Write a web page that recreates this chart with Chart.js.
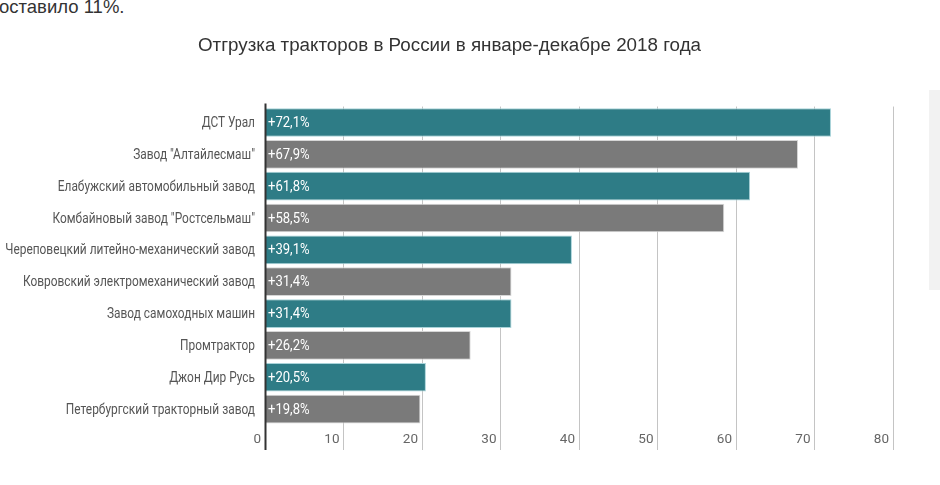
<!DOCTYPE html>
<html>
<head>
<meta charset="utf-8">
<script src="https://cdn.jsdelivr.net/npm/chart.js@4"></script>
<style>
  html, body { margin:0; padding:0; background:#fff; width:940px; height:485px; overflow:hidden; }
  #wrap { position:absolute; left:0; top:0; width:940px; height:485px; }
  #lead { position:absolute; left:-1px; top:-2px; font-family:'Liberation Sans', Arial, sans-serif; font-size:18.5px; line-height:18px; color:#333; white-space:nowrap; }
  #side { position:absolute; left:929px; top:90px; width:11px; height:200px; background:#f2f2f2; }
</style>
</head>
<body>
<div id="lead">оставило 11%.</div>
<div id="side"></div>
<div id="wrap"><canvas id="c" width="940" height="485"></canvas></div>
<script>
const TITLE = 'Отгрузка тракторов в России в январе-декабре 2018 года';
const categories = [
  'ДСТ Урал',
  'Завод "Алтайлесмаш"',
  'Елабужский автомобильный завод',
  'Комбайновый завод "Ростсельмаш"',
  'Череповецкий литейно-механический завод',
  'Ковровский электромеханический завод',
  'Завод самоходных машин',
  'Промтрактор',
  'Джон Дир Русь',
  'Петербургский тракторный завод'
];
const values = [72.1, 67.9, 61.8, 58.5, 39.1, 31.4, 31.4, 26.2, 20.5, 19.8];
const xTicks = [0, 10, 20, 30, 40, 50, 60, 70, 80];

const TEAL = '#2e7c86';
const GRAY = '#7a7a7a';
const barColors = categories.map((_, i) => i % 2 === 0 ? TEAL : GRAY);
const barBorders = categories.map((_, i) => i % 2 === 0 ? '#a9d3d9' : '#d6d6d6');
const COND = "Roboto, 'Noto Sans', sans-serif";

function condText(ctx, txt, x, y, align, squeeze) {
  ctx.save();
  ctx.translate(x, y);
  ctx.scale(squeeze, 1);
  ctx.textAlign = align;
  ctx.fillText(txt, 0, 0);
  ctx.restore();
}

const condensedLabels = {
  id: 'condensedLabels',
  afterDraw(chart) {
    const ctx = chart.ctx;
    const ys = chart.scales.y;
    ctx.save();
    ctx.fillStyle = '#555';
    ctx.font = '14px ' + COND;
    ctx.textBaseline = 'middle';
    ys.getLabels().forEach((lab, i) => {
      condText(ctx, lab, ys.right - 10, ys.getPixelForTick(i) + 1, 'right', 0.85);
    });
    ctx.restore();
  },
  afterDatasetsDraw(chart) {
    const ctx = chart.ctx;
    const meta = chart.getDatasetMeta(0);
    const xs = chart.scales.x;
    const x0 = xs.getPixelForValue(0);
    ctx.save();
    ctx.fillStyle = '#ffffff';
    ctx.font = '14.5px ' + COND;
    ctx.textBaseline = 'middle';
    meta.data.forEach((bar, i) => {
      const txt = '+' + values[i].toFixed(1).replace('.', ',') + '%';
      condText(ctx, txt, x0 + 3, bar.y + 1, 'left', 0.9);
    });
    ctx.strokeStyle = '#333';
    ctx.lineWidth = 2;
    ctx.beginPath();
    ctx.moveTo(x0 + 0.5, chart.chartArea.top - 3);
    ctx.lineTo(x0 + 0.5, chart.chartArea.bottom + 25);
    ctx.stroke();
    ctx.restore();
  }
};

new Chart(document.getElementById('c'), {
  type: 'bar',
  data: {
    labels: categories,
    datasets: [{
      data: values,
      backgroundColor: barColors,
      borderColor: barBorders,
      borderWidth: 1,
      borderSkipped: 'left',
      barPercentage: 0.9,
      categoryPercentage: 1.0
    }]
  },
  options: {
    indexAxis: 'y',
    responsive: false,
    animation: false,
    devicePixelRatio: 1,
    layout: { padding: { top: 35, right: 47, bottom: 0, left: 6 } },
    plugins: {
      legend: { display: false },
      tooltip: { enabled: false },
      title: {
        display: true,
        text: TITLE,
        color: '#333',
        font: { family: "'Liberation Sans', Arial, sans-serif", size: 18.8, weight: 'normal', lineHeight: 1.2 },
        padding: { top: 0, bottom: 49 }
      }
    },
    scales: {
      x: {
        min: 0, max: 80,
        afterBuildTicks: s => { s.ticks = xTicks.map(v => ({ value: v })); },
        afterFit: s => { s.height = 60; },
        grid: { color: '#c4c4c4', lineWidth: 1, drawTicks: true, tickLength: 25, tickColor: '#c4c4c4' },
        border: { display: false },
        ticks: {
          align: 'end',
          labelOffset: -4,
          padding: -18,
          color: '#666',
          font: { family: COND, size: 13.5 }
        }
      },
      y: {
        afterFit: s => { s.width = 259; },
        grid: { display: false, drawTicks: false },
        border: { display: false },
        ticks: { display: false }
      }
    }
  },
  plugins: [condensedLabels]
});
</script>
</body>
</html>
